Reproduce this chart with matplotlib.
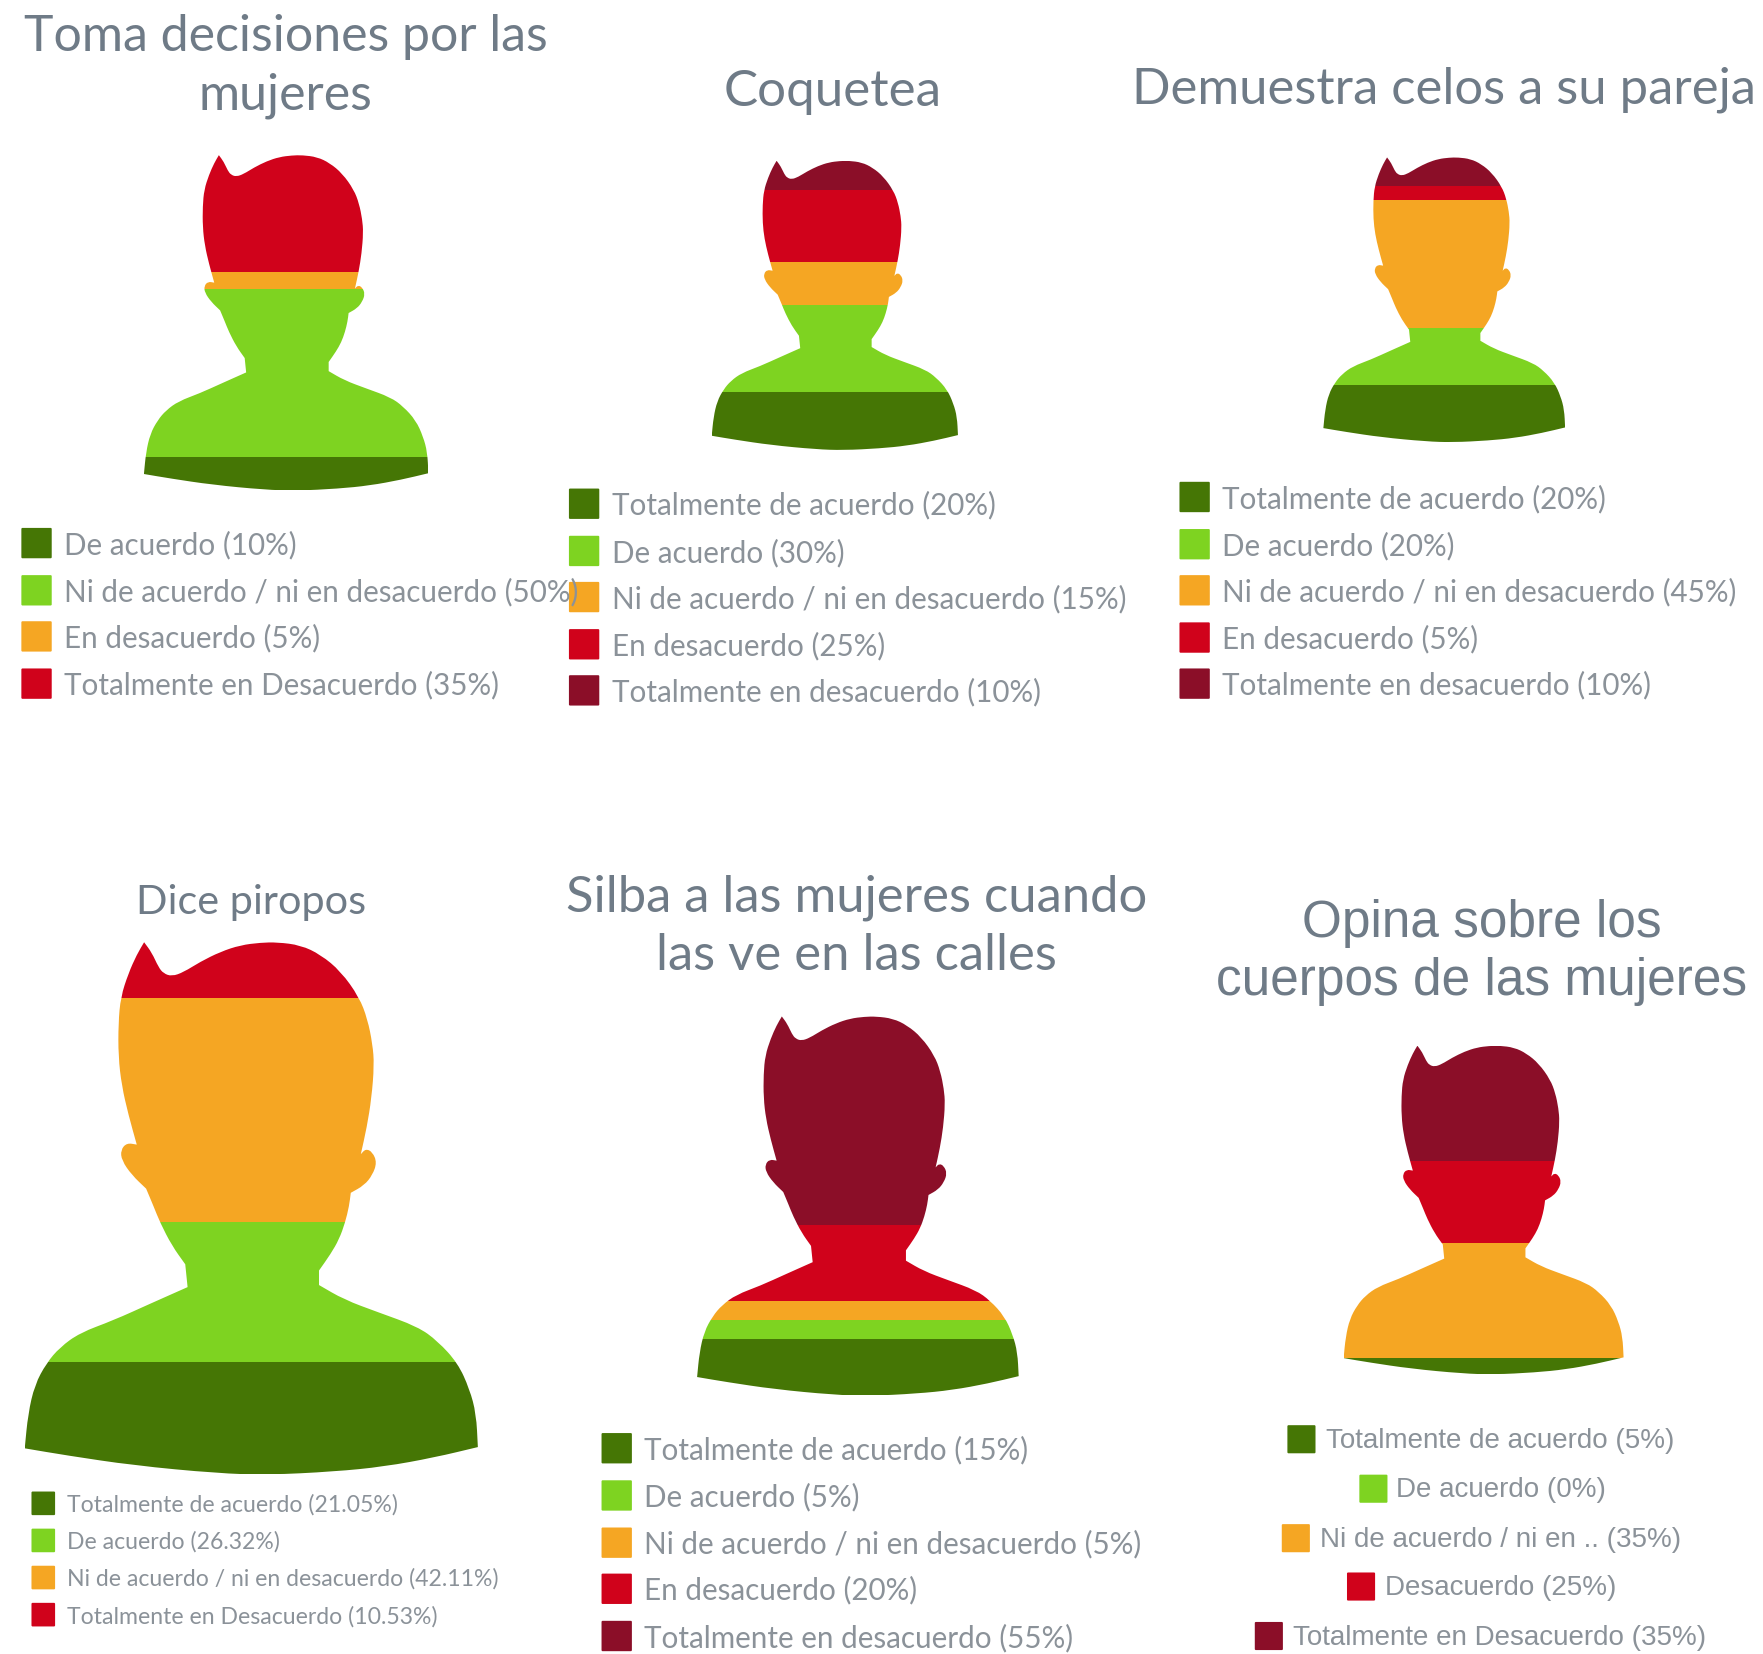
import numpy as np
from matplotlib import pyplot as plt
from matplotlib.path import Path
from matplotlib.patches import PathPatch, FancyBboxPatch

W, H = 1568, 1471  # layout below is measured on the 1568 wide version

colors = ["#457605", "#7ed321", "#f5a623", "#d0021b", "#8b0e28"]

# answers per panel, bottom of the figure first
labels1 = ["De acuerdo", "Ni de acuerdo / ni en desacuerdo", "En desacuerdo", "Totalmente en Desacuerdo"]
values1 = [10, 50, 5, 35]
labels2 = ["Totalmente de acuerdo", "De acuerdo", "Ni de acuerdo / ni en desacuerdo", "En desacuerdo", "Totalmente en desacuerdo"]
values2 = [20, 30, 15, 25, 10]
labels3 = ["Totalmente de acuerdo", "De acuerdo", "Ni de acuerdo / ni en desacuerdo", "En desacuerdo", "Totalmente en desacuerdo"]
values3 = [20, 20, 45, 5, 10]
labels4 = ["Totalmente de acuerdo", "De acuerdo", "Ni de acuerdo / ni en desacuerdo", "Totalmente en Desacuerdo"]
values4 = [21.05, 26.32, 42.11, 10.53]
labels5 = ["Totalmente de acuerdo", "De acuerdo", "Ni de acuerdo / ni en desacuerdo", "En desacuerdo", "Totalmente en desacuerdo"]
values5 = [15, 5, 5, 20, 55]
labels6 = ["Totalmente de acuerdo", "De acuerdo", "Ni de acuerdo / ni en ..", "Desacuerdo", "Totalmente en Desacuerdo"]
values6 = [5, 0, 35, 25, 35]

titles = ["Toma decisiones por las\nmujeres", "Coquetea", "Demuestra celos a su pareja",
          "Dice piropos", "Silba a las mujeres cuando\nlas ve en las calles", "Opina sobre los\ncuerpos de las mujeres"]

# outline of the person, doubled points are sharp corners
outline = [(432, 225), (432, 225), (455, 250), (475, 285), (490, 300), (515, 307), (550, 297), (600, 272), (660, 248),
           (720, 232), (780, 226), (830, 225), (900, 232), (960, 255), (1020, 295), (1075, 357), (1100, 410),
           (1115, 470), (1120, 520), (1112, 600), (1098, 670), (1080, 735), (1080, 735), (1095, 722), (1115, 730),
           (1128, 755), (1115, 785), (1090, 810), (1050, 828), (1050, 828), (1045, 860), (1033, 900), (1015, 940),
           (990, 975), (955, 1015), (955, 1015), (955, 1050), (955, 1050), (1030, 1085), (1130, 1115), (1250, 1150),
           (1310, 1185), (1370, 1238), (1405, 1300), (1425, 1360), (1430, 1440), (1430, 1440), (1300, 1465),
           (1150, 1487), (1000, 1499), (800, 1507), (650, 1503), (400, 1484), (200, 1460), (75, 1443), (75, 1443),
           (85, 1360), (105, 1290), (140, 1238), (180, 1200), (240, 1165), (340, 1135), (450, 1095), (562, 1055),
           (562, 1055), (555, 1000), (555, 1000), (515, 955), (480, 900), (460, 860), (438, 818), (438, 818),
           (395, 785), (365, 750), (362, 725), (380, 708), (410, 712), (410, 712), (385, 640), (365, 570), (355, 500),
           (355, 420), (362, 357), (385, 300), (410, 255)]


def person_path():
    pts = np.array(outline, dtype=float)
    pts[:, 0] = (pts[:, 0] - 75) / 1355
    pts[:, 1] = (1505 - pts[:, 1]) / 1280 * 100
    mids = (pts + np.roll(pts, -1, axis=0)) / 2
    verts = [mids[-1]]
    codes = [Path.MOVETO]
    for p, m in zip(pts, mids):
        verts += [p, m]
        codes += [Path.CURVE3, Path.CURVE3]
    return Path(verts, codes)


fig = plt.figure(figsize=(17.63, 16.54), dpi=100, facecolor="white")

over = fig.add_axes([0, 0, 1, 1])
over.set_xlim(0, W)
over.set_ylim(H, 0)
over.axis("off")


def draw_person(box, values):
    x0, x1, y0, y1 = box
    ax = fig.add_axes([x0 / W, 1 - y1 / H, (x1 - x0) / W, (y1 - y0) / H])
    ax.set_xlim(0, 1)
    ax.set_ylim(0, 100)
    ax.axis("off")
    clip = PathPatch(person_path(), transform=ax.transData, fc="none", ec="none")
    ax.add_patch(clip)
    bottom = 0
    for v, c in zip(values, colors):
        bars = ax.bar(0.5, v, width=1, bottom=bottom, color=c, linewidth=0)
        bars[0].set_clip_path(clip)
        bottom += v


def draw_title(text, cx, ys, size, family):
    for line, y in zip(text.split("\n"), ys):
        over.text(cx, y + 2, line, ha="center", va="center", fontsize=size, color="#6f7b87", family=family)


def draw_legend(labels, values, sw_x, text_x, rows, sw, size, family):
    for i, (lab, v) in enumerate(zip(labels, values)):
        sx = sw_x[i] if isinstance(sw_x, list) else sw_x
        tx = text_x[i] if isinstance(text_x, list) else text_x
        over.add_patch(FancyBboxPatch((sx + 1, rows[i] - sw / 2 + 1), sw - 2, sw - 2, boxstyle="round,pad=1",
                                      fc=colors[i], ec="none"))
        over.text(tx, rows[i] + 1.5, "%s (%g%%)" % (lab, v), ha="left", va="center", fontsize=size, color="#8b9299",
                  family=family)


draw_person((128, 381, 138, 436), values1)
draw_person((633, 852, 143, 400), values2)
draw_person((1177, 1392, 140, 393), values3)
draw_person((22, 425, 838, 1311), values4)
draw_person((620, 906, 904, 1241), values5)
draw_person((1195, 1444, 930, 1222), values6)

draw_title(titles[0], 254, [31, 83], 36, "Lato")
draw_title(titles[1], 741, [80], 36.8, "Lato")
draw_title(titles[2], 1284, [78], 36.5, "Lato")
draw_title(titles[3], 223, [801], 29.8, "Lato")
draw_title(titles[4], 762, [796, 848], 36.5, "Lato")
draw_title(titles[5], 1318, [819, 871], 37, "Liberation Sans")

draw_legend(labels1, values1, 19, 57, [483, 525, 566, 608], 27, 21.3, "Lato")
draw_legend(labels2, values2, 506, 544, [448, 490, 531, 573, 614], 27, 21.3, "Lato")
draw_legend(labels3, values3, 1049, 1087, [442, 484, 525, 567, 608], 27, 21.3, "Lato")
draw_legend(labels4, values4, 28, 60, [1337, 1370, 1403, 1436], 21, 16.6, "Lato")
draw_legend(labels5, values5, 535, 573, [1288, 1330, 1372, 1413, 1455], 27, 21.3, "Lato")
draw_legend(labels6, values6, [1145, 1209, 1140, 1198, 1116], [1179, 1242, 1174, 1232, 1150],
            [1280, 1324, 1368, 1411, 1455], 25, 20, "Liberation Sans")

fig.savefig("out.png", dpi=100)
